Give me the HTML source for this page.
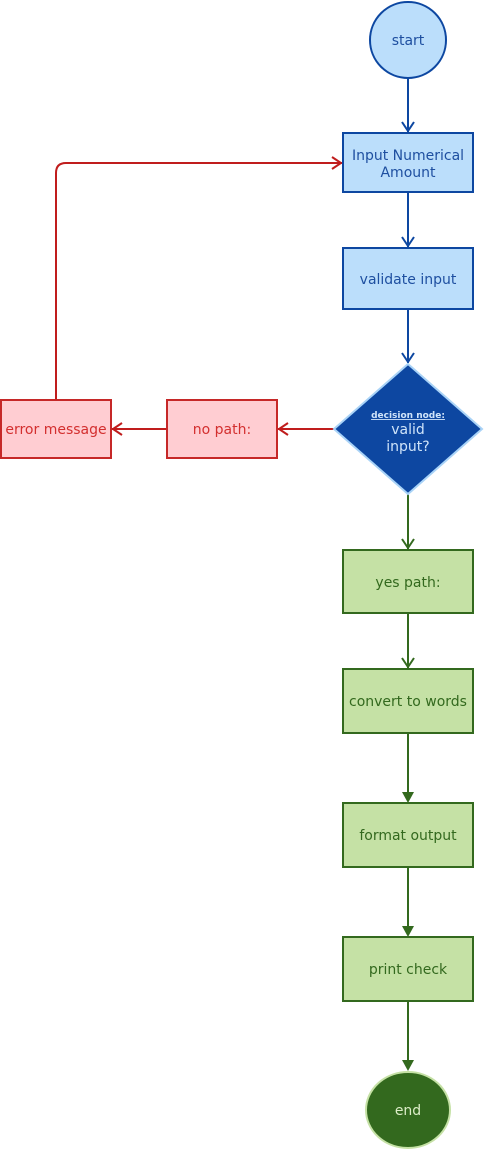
<!DOCTYPE html>
<html><head><meta charset="utf-8"><style>
html,body{margin:0;padding:0;background:#fff;width:485px;height:1151px;overflow:hidden}
text{font-family:"DejaVu Sans","Liberation Sans",sans-serif;font-size:14px;text-anchor:middle}
</style></head><body>
<svg width="485" height="1151" xmlns="http://www.w3.org/2000/svg">
<g fill="none" stroke-width="2">
<g stroke="#0d47a1">
<line x1="408" y1="78" x2="408" y2="132"/><polyline points="402,122 408,131 414,122"/>
<line x1="408" y1="192" x2="408" y2="247"/><polyline points="402,237 408,246 414,237"/>
<line x1="408" y1="309" x2="408" y2="363"/><polyline points="402,353 408,362 414,353"/>
</g>
<g stroke="#c01d1d">
<line x1="334" y1="429" x2="278" y2="429"/><polyline points="288,423 279,429 288,435"/>
<line x1="167" y1="429" x2="112" y2="429"/><polyline points="122,423 113,429 122,435"/>
<path d="M56,400 V173 Q56,163 66,163 H342"/><polyline points="332,157 341,163 332,169"/>
</g>
<g stroke="#33691e">
<line x1="408" y1="494" x2="408" y2="549"/><polyline points="402,539 408,548 414,539"/>
<line x1="408" y1="613" x2="408" y2="668"/><polyline points="402,658 408,667 414,658"/>
<line x1="408" y1="733" x2="408" y2="793"/>
<line x1="408" y1="867" x2="408" y2="927"/>
<line x1="408" y1="1001" x2="408" y2="1061"/>
</g>
</g>
<g fill="#33691e">
<polygon points="402,792 414,792 408,803"/>
<polygon points="402,926 414,926 408,937"/>
<polygon points="402,1060 414,1060 408,1071"/>
</g>
<circle cx="408" cy="40" r="38" fill="#bbdefb" stroke="#0d47a1" stroke-width="2"/>
<text x="408" y="45" fill="#1e4fa0">start</text>
<rect x="343" y="133" width="130" height="59" fill="#bbdefb" stroke="#0d47a1" stroke-width="2"/>
<text x="408" y="160" fill="#1e4fa0">Input Numerical</text>
<text x="408" y="177" fill="#1e4fa0">Amount</text>
<rect x="343" y="248" width="130" height="61" fill="#bbdefb" stroke="#0d47a1" stroke-width="2"/>
<text x="408" y="284" fill="#1e4fa0">validate input</text>
<polygon points="408,364 482,429 408,494 334,429" fill="#0d47a1" stroke="#a9d3f7" stroke-width="2"/>
<text x="408" y="418" fill="#cfe4fa" style="font-size:9px;font-weight:bold;text-decoration:underline">decision node:</text>
<text x="408" y="434" fill="#cfe4fa">valid</text>
<text x="408" y="451" fill="#cfe4fa">input?</text>
<rect x="167" y="400" width="110" height="58" fill="#ffcdd2" stroke="#c62828" stroke-width="2"/>
<text x="222" y="434" fill="#d32f2f">no path:</text>
<rect x="1" y="400" width="110" height="58" fill="#ffcdd2" stroke="#c62828" stroke-width="2"/>
<text x="56" y="434" fill="#d32f2f">error message</text>
<rect x="343" y="550" width="130" height="63" fill="#c5e1a5" stroke="#33691e" stroke-width="2"/>
<text x="408" y="587" fill="#33691e">yes path:</text>
<rect x="343" y="669" width="130" height="64" fill="#c5e1a5" stroke="#33691e" stroke-width="2"/>
<text x="408" y="706" fill="#33691e">convert to words</text>
<rect x="343" y="803" width="130" height="64" fill="#c5e1a5" stroke="#33691e" stroke-width="2"/>
<text x="408" y="840" fill="#33691e">format output</text>
<rect x="343" y="937" width="130" height="64" fill="#c5e1a5" stroke="#33691e" stroke-width="2"/>
<text x="408" y="974" fill="#33691e">print check</text>
<ellipse cx="408" cy="1110" rx="42" ry="38" fill="#33691e" stroke="#c5e1a5" stroke-width="2"/>
<text x="408" y="1115" fill="#dcedc8">end</text>
</svg>
</body></html>
